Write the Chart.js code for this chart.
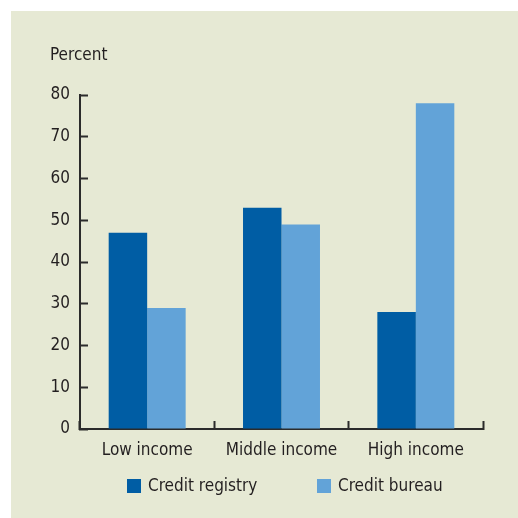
<!DOCTYPE html>
<html>
<head>
<meta charset="utf-8">
<script src="https://cdn.jsdelivr.net/npm/chart.js@4.4.0/dist/chart.umd.min.js"></script>
<style>
    body {
        margin: 0;
        background: #ffffff;
        width: 518px;
        height: 518px;
        overflow: hidden;
        font-family: 'Liberation Sans Narrow', 'Arial Narrow', 'DejaVu Sans Condensed', sans-serif;
        color: #231f20;
    }
    #panel {
        position: absolute;
        left: 11px;
        top: 11px;
        width: 507px;
        height: 507px;
        background: #e6e9d4;
    }
    #chart {
        position: absolute;
        left: 0;
        top: 0;
    }
    .unit-label {
        position: absolute;
        left: 39px;
        top: 34px;
        font-size: 17px;
        line-height: 19px;
    }
    #legend {
        position: absolute;
        left: 116px;
        top: 465px;
    }
    .legend-item {
        position: absolute;
        top: 0;
        display: flex;
        align-items: center;
        white-space: nowrap;
        font-size: 17px;
        line-height: 19px;
    }
    .legend-box {
        width: 14px;
        height: 14px;
        margin-right: 7px;
    }
</style>
</head>
<body>
<div id="panel">
    <canvas id="chart" width="507" height="507"></canvas>
    <div class="unit-label" id="unit-label"></div>
    <div id="legend"></div>
</div>
<script>
// Datos del gráfico
const categories = ['Low income', 'Middle income', 'High income'];
const seriesNames = ['Credit registry', 'Credit bureau'];
const registryValues = [47, 53, 28];
const bureauValues = [29, 49, 78];
const yTickValues = [0, 10, 20, 30, 40, 50, 60, 70, 80];
const unitLabel = 'Percent';

const seriesColors = ['#005da4', '#62a3d8'];
const axisColor = '#2b2b2b';
const textColor = '#231f20';
const fontFamily = "'Liberation Sans Narrow', 'Arial Narrow', 'DejaVu Sans Condensed', sans-serif";

function initChart() {
    document.getElementById('unit-label').textContent = unitLabel;

    // Leyenda en HTML, debajo del gráfico
    const legend = document.getElementById('legend');
    seriesNames.forEach((name, i) => {
        const item = document.createElement('div');
        item.className = 'legend-item';
        item.style.left = (i * 190) + 'px';
        item.innerHTML = `<span class="legend-box" style="background:${seriesColors[i]}"></span><span>${name}</span>`;
        legend.appendChild(item);
    });

    const tickFont = { family: fontFamily, size: 17 };
    const gridOpts = {
        offset: true,
        drawOnChartArea: false,
        tickLength: -8,
        tickWidth: 2,
        tickColor: axisColor
    };

    const ctx = document.getElementById('chart').getContext('2d');
    new Chart(ctx, {
        type: 'bar',
        data: {
            labels: categories,
            datasets: [
                {
                    label: seriesNames[0],
                    data: registryValues,
                    backgroundColor: seriesColors[0],
                    categoryPercentage: 0.573,
                    barPercentage: 1
                },
                {
                    label: seriesNames[1],
                    data: bureauValues,
                    backgroundColor: seriesColors[1],
                    categoryPercentage: 0.573,
                    barPercentage: 1
                }
            ]
        },
        options: {
            responsive: false,
            animation: false,
            devicePixelRatio: 1,
            layout: {
                padding: { left: 0, right: 35, top: 84, bottom: 49 }
            },
            plugins: {
                legend: { display: false },
                tooltip: { enabled: false }
            },
            scales: {
                x: {
                    z: 1,
                    grid: gridOpts,
                    border: { color: axisColor, width: 2 },
                    ticks: { font: tickFont, color: textColor, padding: 19 },
                    afterFit: (scale) => { scale.height = 40; }
                },
                y: {
                    z: 1,
                    min: 0,
                    max: 80,
                    grid: { ...gridOpts, offset: false },
                    border: { color: axisColor, width: 2 },
                    ticks: { font: tickFont, color: textColor, padding: 18 },
                    afterBuildTicks: (scale) => {
                        scale.ticks = yTickValues.map(v => ({ value: v }));
                    },
                    afterFit: (scale) => { scale.width = 69; }
                }
            }
        }
    });
}

if (document.readyState === 'loading') {
    document.addEventListener('DOMContentLoaded', initChart);
} else {
    initChart();
}
</script>
</body>
</html>
